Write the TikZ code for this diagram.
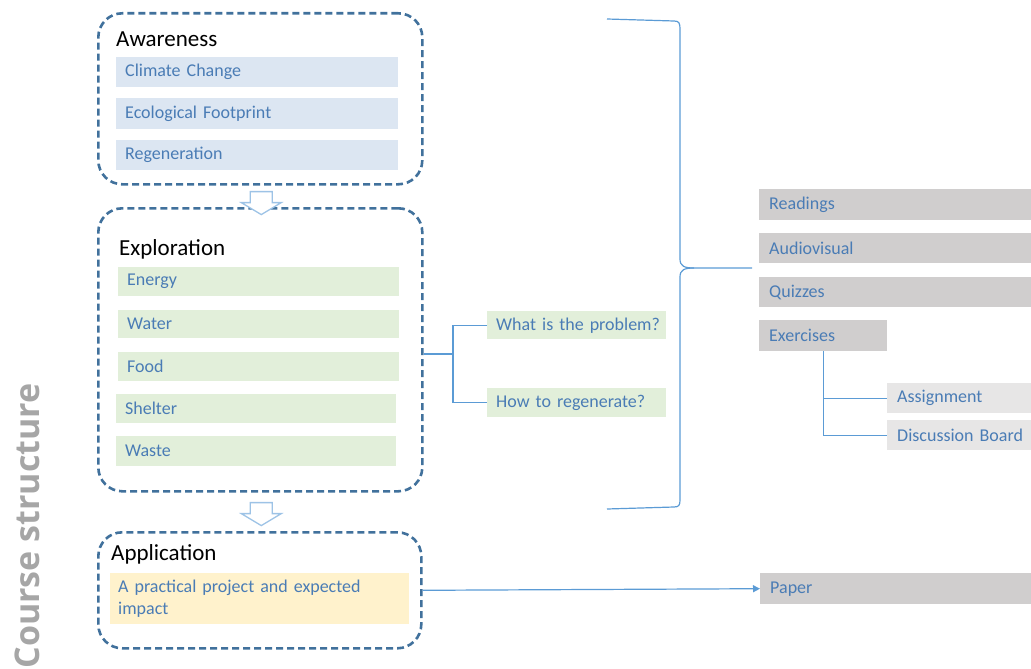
\documentclass[tikz,border=0pt]{standalone}
\usepackage{fontspec}
\setmainfont{Carlito}[WordSpace=0.85]
\newfontfamily\csfont{Open Sans}
\usetikzlibrary{arrows.meta,calc}
\definecolor{grpblue}{HTML}{41719C}
\definecolor{lnblue}{HTML}{5B9BD5}
\definecolor{txtblue}{HTML}{4A7CB5}
\definecolor{barblue}{HTML}{DCE6F2}
\definecolor{bargreen}{HTML}{E2EFDA}
\definecolor{baryellow}{HTML}{FFF2CC}
\definecolor{bargrey}{HTML}{D0CECE}
\definecolor{barlight}{HTML}{E7E6E6}
\definecolor{arrowblue}{HTML}{9DC3E6}
\definecolor{csgrey}{HTML}{A6A6A6}
\newcommand\fbody{\fontsize{18}{22}\selectfont}
\newcommand\ftitle{\fontsize{23}{27}\selectfont}
\tikzset{
  grp/.style={draw=grpblue, line width=2.6pt, dash pattern=on 7pt off 4pt, rounded corners=24pt, anchor=north west, inner sep=0pt},
  gtitle/.style={anchor=west, inner sep=0pt, font=\ftitle, text=black},
  bar/.style={anchor=north west, inner ysep=0pt, align=left, font=\fbody, text=txtblue, minimum height=30pt},
  conn/.style={draw=lnblue, line width=1.2pt},
  hollow/.style={draw=arrowblue, line width=1.3pt, fill=white, line join=miter}
}
\begin{document}
\begin{tikzpicture}[x=1pt,y=-1pt]
\useasboundingbox (0,0) rectangle (1031,669);
% side title
\node[rotate=90, font=\csfont\bfseries\fontsize{34}{40}\selectfont, text=csgrey, inner sep=0pt] (cs) at (27,526) {Course structure};
% groups
\node[grp, minimum width=324pt, minimum height=171pt] (aw) at (97,12) {};
\node[grp, minimum width=324pt, minimum height=283pt] (ex) at (97,207) {};
\node[grp, minimum width=323pt, minimum height=116pt] (ap) at (97,531) {};
\node[gtitle] (awt) at (116,39) {Awareness};
\node[gtitle] (ext) at (119,249) {Exploration};
\node[gtitle] (apt) at (111,554) {Application};
% awareness bars
\node[bar, fill=barblue, inner xsep=9pt, text width=264pt] (cc) at (116,57) {Climate Change};
\node[bar, fill=barblue, inner xsep=9pt, text width=264pt, minimum height=31pt] (ef) at (116,98) {Ecological Footprint};
\node[bar, fill=barblue, inner xsep=9pt, text width=264pt] (rg) at (116,140) {Regeneration};
% exploration bars
\node[bar, fill=bargreen, inner xsep=9pt, text width=263pt, minimum height=29pt] (en) at (118,267) {Energy};
\node[bar, fill=bargreen, inner xsep=9pt, text width=263pt, minimum height=28pt] (wa) at (118,310) {Water};
\node[bar, fill=bargreen, inner xsep=9pt, text width=263pt, minimum height=29pt] (fo) at (118,352) {Food};
\node[bar, fill=bargreen, inner xsep=9pt, text width=262pt, minimum height=29pt] (sh) at (116,394) {Shelter};
\node[bar, fill=bargreen, inner xsep=9pt, text width=262pt] (ws) at (116,436) {Waste};
% questions
\node[bar, fill=bargreen, inner xsep=9pt, text width=161pt, minimum height=28pt] (q1) at (487,311) {\mbox{What is the problem?}};
\node[bar, fill=bargreen, inner xsep=9pt, text width=161pt, minimum height=29pt] (q2) at (487,388) {\mbox{How to regenerate?}};
% application bar
\node[bar, fill=baryellow, inner xsep=8pt, text width=283pt, minimum height=51pt] (pp) at (110,573) {A practical project and expected\\impact};
% right boxes
\node[bar, fill=bargrey, inner xsep=10pt, text width=252pt, minimum height=31pt] (rd) at (759,189) {Readings};
\node[bar, fill=bargrey, inner xsep=10pt, text width=252pt] (av) at (759,233) {Audiovisual};
\node[bar, fill=bargrey, inner xsep=10pt, text width=252pt] (qz) at (759,277) {Quizzes};
\node[bar, fill=bargrey, inner xsep=10pt, text width=108pt, minimum height=31pt] (exr) at (759,320) {Exercises};
\node[bar, fill=barlight, inner xsep=10pt, text width=124pt] (asg) at (887,383) {Assignment};
\node[bar, fill=barlight, inner xsep=10pt, text width=124pt] (db) at (887,420) {\mbox{Discussion Board}};
\node[bar, fill=bargrey, inner xsep=10pt, text width=251pt, minimum height=31pt] (pa) at (760,573) {Paper};
% hollow arrows
\coordinate (h1) at (aw.south);
\draw[hollow] ($(h1)+(-10,6)$) -- ($(h1)+(12,6)$) -- ($(h1)+(12,17)$) -- ($(h1)+(21,17)$) -- ($(h1)+(1,29)$) -- ($(h1)+(-19,17)$) -- ($(h1)+(-10,17)$) -- cycle;
\coordinate (h2) at (ex.south);
\draw[hollow] ($(h2)+(-10,10)$) -- ($(h2)+(12,10)$) -- ($(h2)+(12,21)$) -- ($(h2)+(21,21)$) -- ($(h2)+(1,33)$) -- ($(h2)+(-19,21)$) -- ($(h2)+(-10,21)$) -- cycle;
% exploration connectors
\coordinate (j) at (453,354);
\draw[conn] (ex.east |- j) -- (j);
\draw[conn] (q1.west) -| (j) |- (q2.west);
% exercises connectors
\draw[conn] (exr.south) |- (asg.west);
\draw[conn] (exr.south) |- (db.west);
% application arrow
\draw[conn, -{Triangle[length=7pt,width=7pt]}, lnblue] (ap.east) -- (pa.west);
% brace
\coordinate (bt0) at (rd.west |- 0,268);
\coordinate (bt) at ($(bt0)+(-7,0)$);
\draw[conn] (607,19) -- (674,21) .. controls (679,21) and (680,23) .. (680,29) -- (680,259)
  .. controls (680,266) and (684,268) .. (694,268) -- (bt);
\draw[conn] (694,268) .. controls (684,268) and (680,270) .. (680,277) -- (680,500)
  .. controls (680,505) and (679,507) .. (674,507) -- (607,509);
\end{tikzpicture}
\end{document}
